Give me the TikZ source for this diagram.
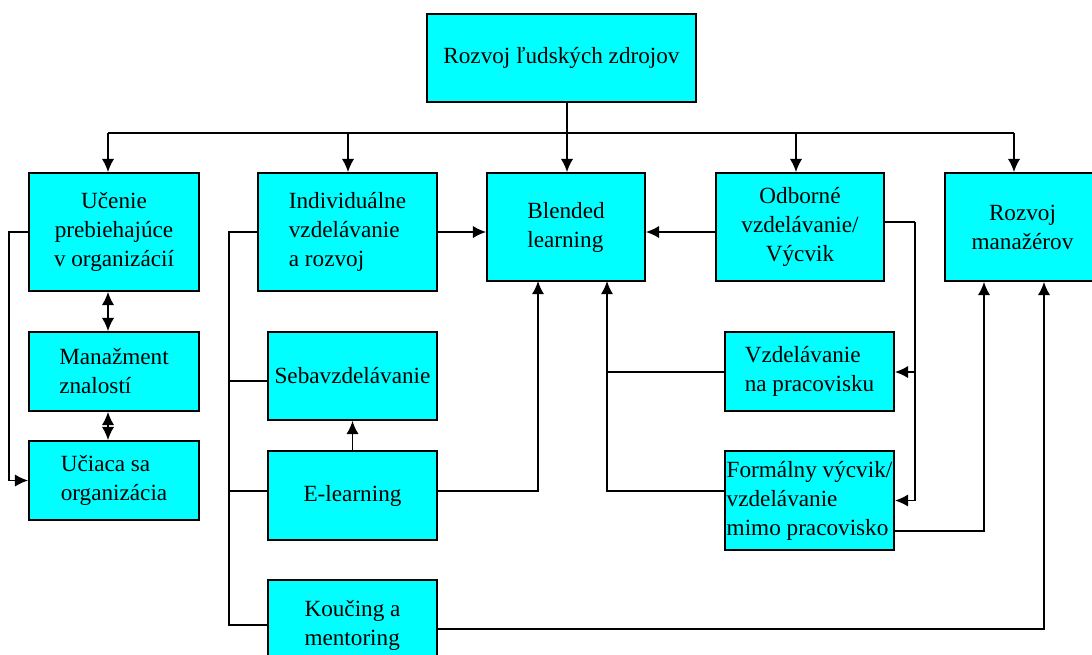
\documentclass[tikz,border=0pt]{standalone}
\usepackage{fontspec}
\setmainfont{Liberation Serif}
\usetikzlibrary{arrows.meta}

\definecolor{tyrkys}{RGB}{0,255,255}
\tikzset{
  blok/.style={draw, fill=tyrkys, line width=1pt, inner sep=1pt,
    font=\fontsize{13.2}{16.5}\selectfont},
  spoj/.style={line width=1pt},
  sip/.style={spoj, -{Latex[length=7.5pt,width=7pt]}},
  dvoj/.style={spoj, {Latex[length=7.5pt,width=7pt]}-{Latex[length=7.5pt,width=7pt]}},
}

\begin{document}
\begin{tikzpicture}[x=0.02cm, y=-0.02cm]
\useasboundingbox (0,0) rectangle (1092,654);

% boxes
\node[blok, minimum width=5.38cm, minimum height=1.76cm] (zdroje) at (561.5,58) {Rozvoj ľudských zdrojov};
\node[blok, minimum width=3.4cm, minimum height=2.36cm, align=center] (ucenie) at (114,232) {Učenie\\prebiehajúce\\v organizácií};
\node[blok, minimum width=3.58cm, minimum height=2.36cm, align=left] (indiv) at (347.5,232) {Individuálne\\vzdelávanie\\a rozvoj};
\node[blok, minimum width=3.16cm, minimum height=2.16cm, align=left] (blended) at (566,227) {Blended\\learning};
\node[blok, minimum width=3.36cm, minimum height=2.16cm, align=center] (odborne) at (800,227) {Odborné\\vzdelávanie/\\Výcvik};
\node[blok, minimum width=3.1cm, minimum height=2.16cm, align=center] (manazeri) at (1022.5,227) {Rozvoj\\manažérov};
\node[blok, minimum width=3.4cm, minimum height=1.58cm, align=left] (znalosti) at (114,371.5) {Manažment\\znalostí};
\node[blok, minimum width=3.4cm, minimum height=1.58cm, align=left] (ucorg) at (114,480.5) {Učiaca sa\\organizácia};
\node[blok, minimum width=3.38cm, minimum height=1.76cm] (sebav) at (352.5,376) {Sebavzdelávanie};
\node[blok, minimum width=3.38cm, minimum height=1.78cm] (elearn) at (352.5,495.5) {E-learning};
\node[blok, minimum width=3.38cm, minimum height=1.8cm, align=left] (koucing) at (352.5,625) {Koučing a\\mentoring};
\node[blok, minimum width=3.38cm, minimum height=1.58cm, align=left] (naprac) at (809.5,371.5) {Vzdelávanie\\na pracovisku};
\node[blok, minimum width=3.38cm, minimum height=1.98cm, align=left] (mimoprac) at (809.5,500.5) {Formálny výcvik/\\vzdelávanie\\mimo pracovisko};

% rozvetvenie zhora
\coordinate (h1) at (108,133);
\coordinate (h2) at (348,133);
\coordinate (h3) at (567,133);
\coordinate (h4) at (796,133);
\coordinate (h5) at (1014,133);
\draw[spoj] (h1) -- (h5);
\draw[sip] (zdroje.south -| h3) -- (blended.north -| h3);
\draw[sip] (h1) -- (h1 |- ucenie.north);
\draw[sip] (h2) -- (h2 |- indiv.north);
\draw[sip] (h4) -- (h4 |- odborne.north);
\draw[sip] (h5) -- (h5 |- manazeri.north);

% lavy stlpec
\draw[sip] (ucenie.west) -- ++(-19,0) |- (ucorg.west);
\draw[dvoj] (ucenie.south -| h1) -- (znalosti.north -| h1);
\draw[dvoj] (znalosti.south -| h1) -- (ucorg.north -| h1);

% individualne vzdelavanie
\coordinate (iv) at (229,232);
\coordinate (r2) at (0,381);
\coordinate (r3) at (0,491);
\coordinate (r4) at (0,372);
\draw[spoj] (indiv.west) -- (iv) |- (koucing.west);
\draw[spoj] (sebav.west |- r2) -- (iv |- r2);
\draw[spoj] (elearn.west |- r3) -- (iv |- r3);
\draw[sip] (indiv.east) -- (indiv.east -| blended.west);
\draw[sip] (elearn.north) -- (sebav.south);

% do blended learning
\coordinate (b1) at (538,281);
\coordinate (b2) at (607,281);
\draw[sip] (elearn.east |- r3) -| (b1);
\draw[spoj] (naprac.west |- r4) -- (b2 |- r4);
\draw[sip] (mimoprac.west |- r3) -| (b2);
\draw[sip] (odborne.west |- indiv.east) -- (blended.east |- indiv.east);

% odborne vzdelavanie
\coordinate (ov) at (915,222);
\draw[spoj] (odborne.east |- ov) -- (ov);
\draw[sip] (ov) |- (naprac.east |- r4);
\draw[sip] (ov) |- (mimoprac.east);

% rozvoj manazerov
\coordinate (m1) at (984,531);
\coordinate (m2) at (1044,629);
\draw[sip] (mimoprac.east |- m1) -- (m1) -- (m1 |- manazeri.south);
\draw[sip] (koucing.east |- m2) -- (m2) -- (m2 |- manazeri.south);
\end{tikzpicture}
\end{document}
